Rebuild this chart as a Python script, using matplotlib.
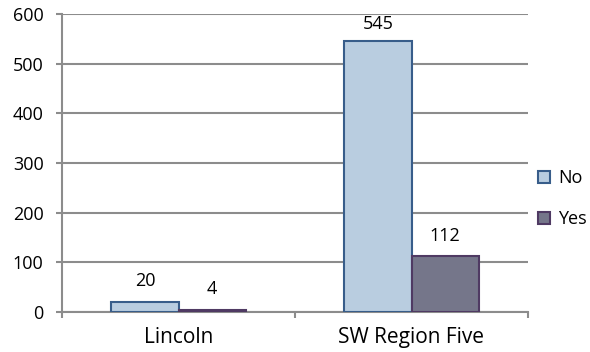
import matplotlib
matplotlib.use("Agg")
import matplotlib.pyplot as plt
import numpy as np

categories = ["Lincoln", "SW Region Five"]
series_names = ["No", "Yes"]
no_values = [20, 545]
yes_values = [4, 112]
yticks = [0, 100, 200, 300, 400, 500, 600]

plt.rcParams['font.family'] = ['Open Sans', 'DejaVu Sans']
FS = 13
FSX = 15

fig = plt.figure(figsize=(5.9, 3.52), dpi=100)
ax = fig.add_axes([62/590, 1-312/352, (528-62)/590, (312-14)/352])

x = np.arange(len(categories))
w = 0.288
b1 = ax.bar(x - w/2, no_values, w, color="#b9cde0", edgecolor="#385d8a", linewidth=1.5, label=series_names[0], zorder=3)
b2 = ax.bar(x + w/2, yes_values, w, color="#75768a", edgecolor="#4f3a63", linewidth=1.5, label=series_names[1], zorder=3)

ax.set_ylim(0, 600)
ymax = 600
for bars, vals in ((b1, no_values), (b2, yes_values)):
    for r, v in zip(bars, vals):
        cx = r.get_x() + r.get_width()/2
        if v > ymax * 0.88:
            ax.annotate(str(v), (cx, ymax), xytext=(0, -0.5),
                        textcoords="offset points", ha="center", va="top", fontsize=FS)
        else:
            ax.annotate(str(v), (cx, v), xytext=(0, 8.5),
                        textcoords="offset points", ha="center", va="bottom", fontsize=FS)

ax.set_xlim(-0.5, 1.5)
ax.set_yticks(yticks)
ax.yaxis.grid(True, color="#8c8c8c", linewidth=1.5, zorder=0)
ax.set_axisbelow(True)
ax.set_xticks([-0.5, 0.5, 1.5])
ax.set_xticks(x, minor=True)
ax.set_xticklabels(["", "", ""])
ax.set_xticklabels(categories, minor=True)
ax.tick_params(axis="x", which="major", length=4.3, color="#8c8c8c", width=1.5)
ax.tick_params(axis="x", which="minor", length=0, labelsize=FSX, pad=11)
ax.tick_params(axis="y", length=4.3, color="#8c8c8c", width=1.5, labelsize=FS, pad=9)
for s in ["top", "right"]:
    ax.spines[s].set_visible(False)
for s in ["left", "bottom"]:
    ax.spines[s].set_color("#8c8c8c")
    ax.spines[s].set_linewidth(1.5)

ax.legend(loc="center left", bbox_to_anchor=(1.021, 0.38), frameon=False,
          fontsize=FS, handlelength=0.66, handleheight=0.66, handletextpad=0.45,
          labelspacing=1.3, borderaxespad=0, borderpad=0)

fig.savefig("out.png", dpi=100)
